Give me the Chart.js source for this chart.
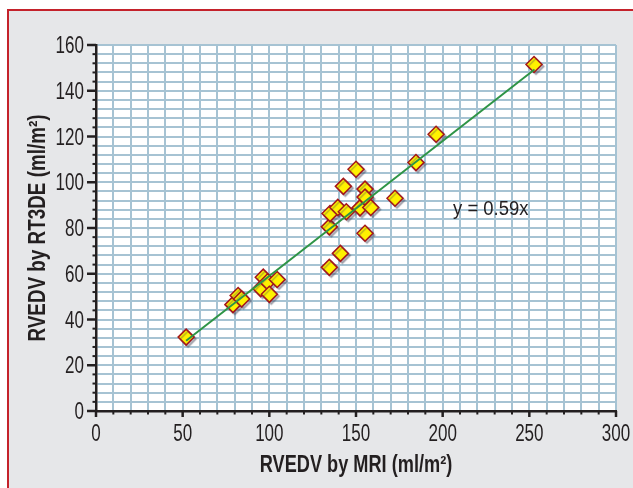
<!DOCTYPE html>
<html>
<head>
<meta charset="utf-8">
<script src="https://cdn.jsdelivr.net/npm/chart.js@4"></script>
<style>
  html, body { margin: 0; padding: 0; background: #fff; }
  #frame {
    position: absolute; left: 7px; top: 9px; width: 640px; height: 500px;
    background: #e6e7e9; border-left: 2px solid #c4222b; border-top: 2px solid #c4222b;
  }
  #predictions { position: absolute; left: 0; top: 0; }
</style>
</head>
<body>
<div id="frame"></div>
<canvas id="predictions" width="633" height="488"></canvas>
<script>
// RVEDV by MRI (x) vs RVEDV by RT3DE (y), ml/m2
const mriValues = [52, 79, 82, 84, 95, 96.5, 99, 100, 104.5,
  134.6, 134.6, 135, 139.5, 141, 142.7, 144.4, 150, 152.3, 155.2, 155.2, 155.2, 158.5, 172.5,
  184.6, 196.2, 252.7];
const rt3deValues = [32.3, 46.5, 50.5, 49, 53.5, 58.5, 56.5, 51, 57.5,
  62.8, 80.5, 86.3, 89, 68.9, 98.2, 87.1, 105.7, 88.8, 97, 93.5, 77.7, 89, 93,
  108.6, 121, 151.5];
// regression line y = 0.59x
const fitX = [52, 253];
const fitY = [30.7, 149.3];
const fitLabel = "y = 0.59x";
const xTitle = "RVEDV by MRI (ml/m\u00B2)";
const yTitle = "RVEDV by RT3DE (ml/m\u00B2)";
const xTickLabels = [0, 50, 100, 150, 200, 250, 300];
const yTickLabels = [0, 20, 40, 60, 80, 100, 120, 140, 160];

const sans = "'Liberation Sans', Arial, sans-serif";
const ink = "#231f20";

const points = mriValues.map((x, i) => ({ x: x, y: rt3deValues[i] }));
const fitLine = fitX.map((x, i) => ({ x: x, y: fitY[i] }));

// condensed-looking text: squeeze horizontally, y is the cap-height centre
function label(ctx, text, x, y, size, bold, squeeze, align, rot) {
  ctx.save();
  ctx.translate(x, y);
  if (rot) ctx.rotate(rot);
  ctx.scale(squeeze, 1);
  ctx.font = (bold ? "bold " : "") + size + "px " + sans;
  ctx.fillStyle = ink;
  ctx.textAlign = align;
  ctx.textBaseline = "alphabetic";
  ctx.fillText(text, 0, size * 0.358);
  ctx.restore();
}

const areaBg = {
  id: "areaBg",
  beforeDraw(chart) {
    const { ctx, chartArea: a } = chart;
    ctx.save();
    ctx.fillStyle = "#ffffff";
    ctx.fillRect(a.left, a.top, a.width, a.height);
    ctx.restore();
  },
};

const markShadow = {
  id: "markShadow",
  beforeDatasetDraw(chart, args) {
    if (args.index !== 0) return;
    const ctx = chart.ctx;
    ctx.save();
    ctx.shadowColor = "rgba(60,60,80,0.35)";
    ctx.shadowOffsetX = 2;
    ctx.shadowOffsetY = 2;
    ctx.shadowBlur = 1;
  },
  afterDatasetDraw(chart, args) {
    if (args.index !== 0) return;
    chart.ctx.restore();
  },
};

const axisDecor = {
  id: "axisDecor",
  afterDraw(chart) {
    const { ctx, chartArea: a, scales } = chart;
    ctx.save();
    ctx.strokeStyle = ink;
    for (let v = 0; v <= 300; v += 10) {
      const px = scales.x.getPixelForValue(v);
      const major = v % 50 === 0;
      ctx.lineWidth = major ? 2.5 : 2;
      ctx.beginPath();
      ctx.moveTo(px, a.bottom);
      ctx.lineTo(px, a.bottom + (major ? 6 : 3.5));
      ctx.stroke();
    }
    for (let v = 0; v <= 160; v += 4) {
      const py = scales.y.getPixelForValue(v);
      const major = v % 20 === 0;
      ctx.lineWidth = major ? 2.5 : 2;
      ctx.beginPath();
      ctx.moveTo(a.left, py);
      ctx.lineTo(a.left - (major ? 9 : 3.5), py);
      ctx.stroke();
    }
    ctx.restore();

    xTickLabels.forEach((v) => {
      label(ctx, String(v), scales.x.getPixelForValue(v), a.bottom + 22, 23, false, 0.74, "center");
    });
    yTickLabels.forEach((v) => {
      label(ctx, String(v), a.left - 12, scales.y.getPixelForValue(v), 23, false, 0.74, "right");
    });
    label(ctx, xTitle, (a.left + a.right) / 2, 464, 23, true, 0.79, "center");
    label(ctx, yTitle, 37, (a.top + a.bottom) / 2, 23, true, 0.82, "center", -Math.PI / 2);
    label(ctx, fitLabel, scales.x.getPixelForValue(206), scales.y.getPixelForValue(89), 20.5, false, 0.9, "left");
  },
};

new Chart(document.getElementById("predictions"), {
  type: "scatter",
  data: {
    datasets: [
      {
        label: "RT3DE vs MRI",
        data: points,
        pointStyle: "rectRot",
        pointRadius: 8,
        pointHoverRadius: 8,
        backgroundColor: "#fff200",
        borderColor: "#a3161b",
        pointBorderWidth: 1.5,
        order: 1,
      },
      {
        label: "fit",
        type: "line",
        data: fitLine,
        borderColor: "#2e9446",
        borderWidth: 2,
        pointRadius: 0,
        fill: false,
        order: 0,
      },
    ],
  },
  options: {
    responsive: false,
    animation: false,
    events: [],
    layout: { padding: { left: 0, top: 45, right: 17, bottom: 0 } },
    plugins: { legend: { display: false }, tooltip: { enabled: false } },
    scales: {
      x: {
        type: "linear",
        min: 0,
        max: 300,
        afterFit(scale) {
          scale.height = 77;
          scale.paddingLeft = 0;
          scale.paddingRight = 0;
        },
        grid: { color: "#a6c3d3", lineWidth: 2, drawTicks: false },
        border: { display: true, color: ink, width: 2.5 },
        ticks: { stepSize: 10, autoSkip: false, display: false },
      },
      y: {
        type: "linear",
        min: 0,
        max: 160,
        afterFit(scale) {
          scale.width = 96;
          scale.paddingTop = 0;
          scale.paddingBottom = 0;
        },
        grid: { color: "#a6c3d3", lineWidth: 2, drawTicks: false },
        border: { display: true, color: ink, width: 2.5 },
        ticks: { stepSize: 4, autoSkip: false, display: false },
      },
    },
  },
  plugins: [areaBg, markShadow, axisDecor],
});
</script>
</body>
</html>
